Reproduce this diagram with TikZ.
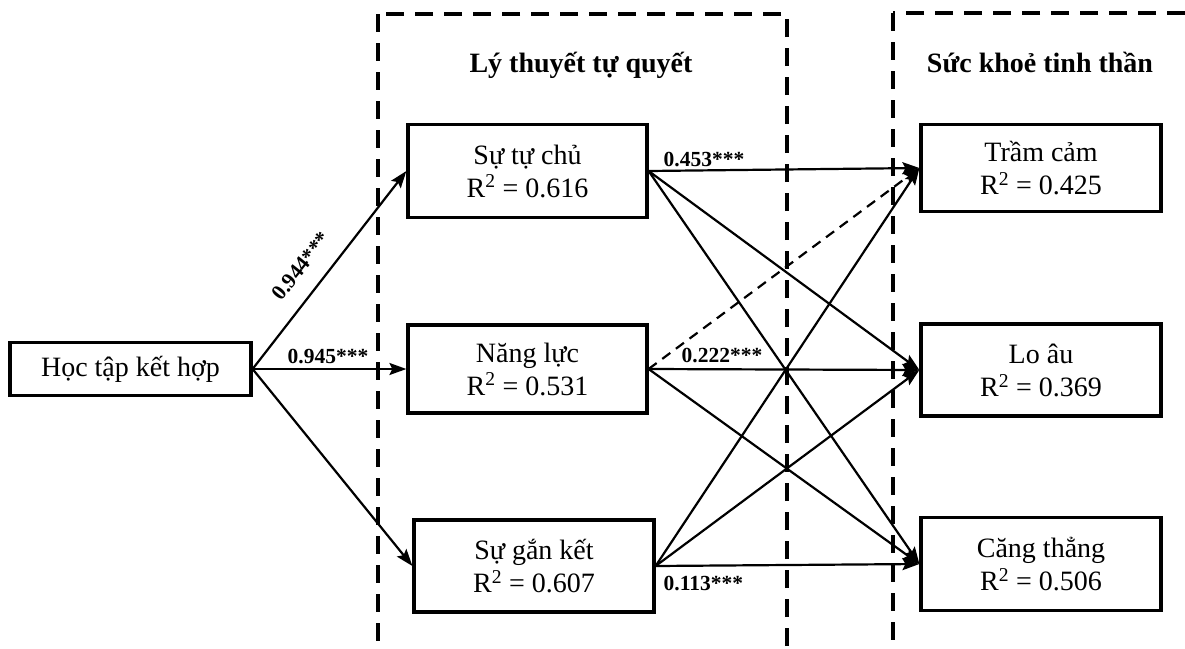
\documentclass[tikz,border=0pt]{standalone}
\usepackage{fontspec}
\setmainfont{Liberation Serif}
\usetikzlibrary{arrows.meta}
\newcommand{\boxfont}{\fontsize{28}{33}\selectfont}
\newcommand{\coeffont}{\fontsize{21.5}{24}\selectfont\bfseries}
\newcommand{\titlefont}{\fontsize{28}{33}\selectfont\bfseries}
\begin{document}
\begin{tikzpicture}[x=1pt,y=-1pt,
  varbox/.style={draw, line width=3.2pt, inner sep=0pt, align=center, font=\boxfont},
  frame/.style={line width=4pt, dash pattern=on 18pt off 11pt},
  path/.style={line width=2.2pt, -{Stealth[length=17pt,width=12pt,inset=3pt]}},
  nspath/.style={path, dash pattern=on 10pt off 7pt},
  coef/.style={font=\coeffont, inner sep=0pt},
  heading/.style={font=\titlefont, inner sep=0pt}]
\useasboundingbox (0,0) rectangle (1185,648);

% dashed group frames (running off the page)
\begin{scope}
  \clip (0,0) rectangle (1185,648);
  \draw[frame] (378,14) rectangle (787,720);
  \draw[frame] (893,13) rectangle (1260,720);
\end{scope}

\node[heading] (t1) at (581,65) {Lý thuyết tự quyết};
\node[heading] (t2) at (1040,62) {Sức khoẻ tinh thần};

% variables
\node[varbox, minimum width=241pt, minimum height=53pt] (hoc) at (130.5,369) {Học tập kết hợp};

\node[varbox, minimum width=239pt, minimum height=93pt] (tuchu) at (527.5,171)
  {Sự tự chủ\\R\textsuperscript{2} = 0.616};
\node[varbox, minimum width=239pt, minimum height=88pt] (nangluc) at (527.5,369)
  {Năng lực\\R\textsuperscript{2} = 0.531};
\node[varbox, minimum width=240pt, minimum height=92pt] (gan) at (534,566)
  {Sự gắn kết\\R\textsuperscript{2} = 0.607};

\node[varbox, minimum width=240pt, minimum height=87pt] (tram) at (1041,168)
  {Trầm cảm\\R\textsuperscript{2} = 0.425};
\node[varbox, minimum width=240pt, minimum height=92pt] (lo) at (1041,370)
  {Lo âu\\R\textsuperscript{2} = 0.369};
\node[varbox, minimum width=240pt, minimum height=93pt] (cang) at (1041,564)
  {Căng thẳng\\R\textsuperscript{2} = 0.506};

% paths from blended learning
\draw[path] (hoc.east) -- (tuchu.west);
\node[coef, rotate=51.5] (c1) at (301,266) {0.944***};
\draw[path] (hoc.east) -- node[coef, pos=0.49, above=4pt] (c2) {0.945***} (nangluc.west);
\draw[path] (hoc.east) -- (gan.west);

% paths to mental health
\draw[path] (tuchu.east) -- node[coef, pos=0, anchor=south west, xshift=14pt, yshift=3pt] (c3) {0.453***} (tram.west);
\draw[path] (tuchu.east) -- (lo.west);
\draw[path] (tuchu.east) -- (cang.west);

\draw[nspath] (nangluc.east) -- (tram.west);
\draw[path] (nangluc.east) -- node[coef, pos=0, anchor=south west, xshift=32pt, yshift=5pt] (c4) {0.222***} (lo.west);
\draw[path] (nangluc.east) -- (cang.west);

\draw[path] (gan.east) -- (tram.west);
\draw[path] (gan.east) -- (lo.west);
\draw[path] (gan.east) -- node[coef, pos=0, anchor=north west, xshift=7pt, yshift=-9pt] (c5) {0.113***} (cang.west);
\end{tikzpicture}
\end{document}
